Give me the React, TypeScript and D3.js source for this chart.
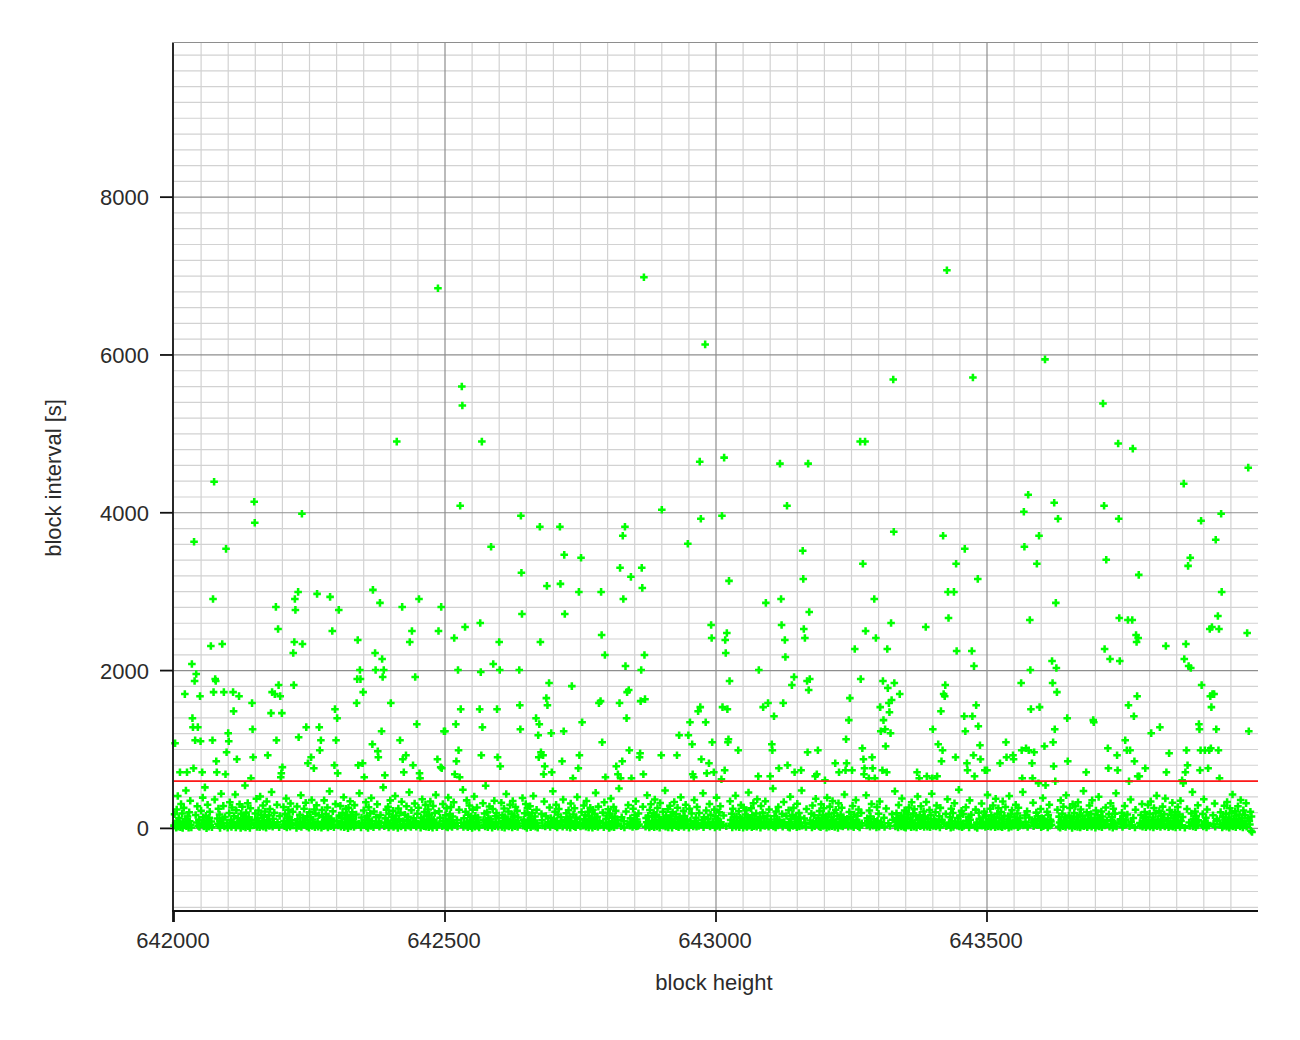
import React from "react";
import * as d3 from "d3";

const startHeight = 642000;
const blockCount = 2000;
const targetInterval = 600;
const xMajorTicks = [642000, 642500, 643000, 643500];
const yMajorTicks = [0, 2000, 4000, 6000, 8000];
const xTitle = "block height";
const yTitle = "block interval [s]";

// [block offset from 642000, interval in seconds] for the readable long intervals
const spikePoints: [number, number][] = [
  [74,4394],[487,6845],[531,5601],[532,5359],[411,4902],[568,4902],[867,6985],[970,4648],[980,6134],[1015,4699],
  [1118,4623],[1170,4623],[1266,4902],[1275,4902],[1327,5690],[1426,7074],[1474,5715],[1607,5944],[1714,5385],[1742,4877],
  [1769,4813],[1863,4369],[1982,4572],[1576,4229],[1624,4128],
  [148,4140],[149,3874],[236,3988],[37,3632],[96,3543],[72,2908],[229,2997],[223,2908],[188,2807],[224,2769],
  [264,2972],[288,2934],[304,2769],[367,3023],[380,2858],[421,2807],[452,2908],[493,2807],[192,2527],[292,2502],
  [439,2502],[488,2502],[68,2311],[89,2337],[222,2362],[237,2337],[220,2223],[339,2388],[371,2223],[384,2146],
  [435,2362],[33,2083],[41,1956],[343,2007],[372,2007],[387,2007],[385,1918],[445,1918],[344,1892],[76,1892],
  [38,1867],[20,1702],[48,1676],[77,1867],[73,1727],[92,1727],[109,1727],[120,1676],[144,1588],[110,1486],
  [34,1397],[35,1283],[44,1283],[39,1118],[49,1105],[71,1118],[100,1207],[101,1105],[97,965],[145,1257],
  [116,876],[146,902],[78,851],[2,1080],[173,927],[181,1727],[186,1702],[196,1676],[193,1816],[221,1816],
  [179,1461],[199,1461],[189,1118],[230,1156],[244,1283],[268,1283],[271,1118],[269,991],[253,902],[299,1118],
  [297,1511],[301,1397],[338,1892],[349,1727],[337,1588],[400,1588],[448,1321],[383,1232],[366,1067],[376,978],
  [377,902],[417,1118],[428,927],[422,876],[441,800],[486,876],[494,762],[498,1232],
  [11,711],[24,711],[36,762],[52,711],[79,711],[95,686],[142,635],[197,648],[302,699],[351,648],
  [389,673],[424,711],[453,699],[454,635],[492,775],[340,800],[348,826],[296,800],[247,826],[258,762],
  [200,775],[198,699],
  [528,4089],[640,3962],[675,3823],[712,3823],[832,3823],[828,3708],[900,4039],[972,3924],[948,3607],[585,3569],
  [720,3467],[751,3429],[641,3239],[823,3302],[863,3302],[843,3188],[688,3073],[713,3099],[864,3048],[747,2997],
  [788,2997],[829,2908],[642,2718],[721,2718],[537,2553],[565,2604],[991,2578],[517,2413],[600,2362],[676,2362],
  [789,2451],[992,2413],[795,2197],[868,2197],[589,2083],[833,2057],[524,2007],[566,1981],[601,2007],[637,2007],
  [862,2007],
  [692,1842],[734,1803],[836,1727],[839,1753],[869,1638],[861,1613],[784,1588],[787,1613],[822,1588],[687,1651],
  [689,1562],[529,1511],[564,1511],[596,1511],[638,1562],[835,1397],[971,1537],[967,1486],[520,1321],[569,1283],
  [639,1257],[668,1397],[674,1321],[753,1346],[696,1207],[719,1232],[672,1181],[952,1346],[981,1346],[932,1181],
  [949,1181],[790,1092],[956,1067],[993,1092],[500,1232],[525,991],[521,851],[567,927],[597,902],[602,787],
  [677,965],[681,927],[673,902],[684,787],[716,851],[748,927],[746,762],[840,991],[860,953],[859,902],
  [827,851],[816,787],[899,927],[928,927],[973,876],[987,826],[996,711],[518,686],[527,648],[682,686],
  [697,711],[736,635],[796,648],[819,686],[824,635],[844,635],[866,686],[957,686],[959,648],[983,699],
  [1131,4089],[1011,3962],[1328,3759],[1419,3708],[1459,3543],[1160,3518],[1271,3353],[1443,3353],[1024,3137],[1161,3162],
  [1483,3162],[1428,2997],[1439,2997],[1120,2908],[1292,2908],[1092,2858],[1172,2743],[1429,2667],[1121,2578],[1323,2604],
  [1387,2553],[1162,2527],[1020,2477],[1276,2502],[1017,2388],[1127,2388],[1164,2413],[1295,2413],[1018,2223],[1128,2172],
  [1256,2273],[1316,2273],[1444,2248],[1472,2248],[1476,2057],[1079,2007],
  [1025,1867],[1144,1918],[1140,1816],[1173,1892],[1168,1867],[1171,1753],[1267,1892],[1308,1867],[1317,1778],[1329,1842],
  [1339,1702],[1423,1816],[1420,1702],[1422,1676],[1012,1537],[1021,1511],[1087,1537],[1096,1588],[1124,1588],[1107,1422],
  [1247,1651],[1319,1588],[1324,1626],[1303,1537],[1320,1473],[1415,1486],[1480,1562],[1458,1422],[1473,1422],[1245,1372],
  [1309,1372],[1304,1232],[1312,1257],[1322,1207],[1400,1257],[1460,1232],[1484,1295],[1023,1130],[1022,1092],[1103,1067],
  [1104,991],[1240,1130],[1313,1041],[1410,1067],[1418,991],[1487,1054],[1041,991],[1169,965],[1188,991],[1270,1016],
  [1272,876],[1288,902],[1289,762],[1442,902],[1416,851],[1475,927],[1488,876],[1463,826],[1464,737],[1496,737],
  [1220,826],[1241,826],[1239,737],[1251,737],[1227,711],[1274,762],[1273,686],[1307,737],[1315,711],[1116,762],
  [1132,800],[1145,711],[1157,737],[1016,737],[1078,660],[1100,660],[1183,660],[1186,686],[1371,711],[1375,635],
  [1389,660],[1399,635],[1408,660],[1477,660],[1010,622],[1201,610],[1282,635],[1293,635],
  [1568,4013],[1631,3924],[1743,3924],[1895,3899],[1932,3988],[1716,4089],[1596,3708],[1922,3658],[1569,3569],[1720,3404],
  [1875,3429],[1871,3327],[1592,3353],[1780,3213],[1933,2997],[1627,2858],[1579,2642],[1744,2667],[1760,2642],[1768,2642],
  [1926,2692],[1911,2527],[1915,2553],[1928,2527],[1980,2477],[1775,2451],[1779,2413],[1776,2362],[1717,2273],[1830,2311],
  [1867,2337],[1620,2121],[1628,2032],[1727,2146],[1745,2121],[1864,2146],[1872,2057],[1876,2032],[1580,2007],
  [1563,1842],[1621,1842],[1629,1727],[1581,1511],[1597,1537],[1648,1397],[1696,1372],[1697,1346],[1761,1562],[1777,1676],
  [1771,1422],[1896,1816],[1912,1676],[1916,1702],[1919,1702],[1914,1537],[1891,1321],[1892,1257],[1923,1257],[1983,1232],
  [1625,1257],[1535,1092],[1622,1092],[1606,1041],[1803,1207],[1819,1283],[1755,1118],[1536,902],[1548,927],[1549,876],
  [1564,991],[1572,1016],[1577,991],[1587,965],[1524,826],[1583,826],[1623,787],[1649,851],[1723,1016],[1740,927],
  [1758,991],[1764,991],[1772,851],[1724,762],[1741,737],[1683,711],[1792,762],[1831,711],[1836,953],[1868,991],
  [1870,800],[1866,711],[1894,991],[1902,991],[1910,991],[1913,1016],[1927,991],[1893,737],[1908,762],[1778,660],
  [1781,660],[1565,635],[1584,635],[1595,572],[1608,546],[1626,597],[1860,610],[1862,572],[1929,635],[1762,597],
  [1500,737],
];

// the remaining (short) intervals, block after block
const baseIntervals: number[] = [
  35,180,62,8,240,95,410,22,130,70,15,310,55,190,5,85,260,40,120,480,28,150,66,10,205,90,350,45,12,170,75,280,30,110,18,225,58,390,140,25,80,520,48,160,3,100,300,68,20,135,
  210,42,88,14,365,125,60,250,33,175,7,95,440,52,115,285,26,145,72,9,195,330,38,105,17,265,82,155,50,430,11,230,65,128,36,305,92,6,185,47,275,118,24,160,78,545,13,200,57,97,
  320,29,142,63,4,255,108,41,188,74,375,19,132,53,228,86,16,405,61,168,34,98,290,23,145,70,215,46,10,340,102,55,165,31,245,84,460,21,122,67,198,39,300,77,14,158,49,270,93,27,
  182,56,380,11,126,87,235,44,148,20,315,71,104,37,212,59,6,278,116,32,172,81,420,18,138,64,250,43,99,325,26,155,75,8,206,52,138,360,30,113,69,240,15,186,48,294,85,22,167,40,
  9,232,73,140,27,355,106,51,178,35,88,265,12,150,62,470,29,124,80,218,45,16,310,97,38,162,57,285,21,134,76,195,43,395,14,118,66,248,33,174,89,2,260,101,47,345,25,152,68,205,
  54,120,18,295,83,36,176,62,445,11,137,73,228,41,102,330,24,159,70,7,268,112,48,190,30,385,94,15,215,58,141,39,305,86,20,170,64,520,28,127,76,238,46,99,275,13,183,55,355,34,
  144,71,222,19,108,61,410,37,163,84,5,252,119,42,198,26,337,90,56,173,12,280,104,50,146,33,458,78,17,230,67,128,40,315,95,23,186,59,262,10,136,81,370,44,114,28,207,63,298,21,
  156,48,92,240,14,175,69,340,31,121,85,8,283,110,52,196,38,425,74,16,218,60,134,29,308,97,45,165,22,256,79,11,392,123,57,180,35,270,88,19,151,66,330,43,105,26,235,72,490,17,
  128,63,210,34,355,81,14,172,56,290,99,27,147,72,6,238,115,41,405,20,161,88,50,265,31,139,76,12,318,107,46,189,24,540,93,58,203,15,132,68,278,37,117,84,9,246,53,350,29,154,
  77,196,22,130,61,325,18,167,90,44,252,10,143,71,435,35,118,83,215,26,65,298,109,48,178,13,346,96,40,160,28,272,75,55,224,17,138,62,385,33,110,86,191,24,309,51,7,255,101,39,
  168,45,280,14,122,73,198,32,410,92,55,150,21,235,67,10,183,104,38,340,26,158,78,48,265,19,131,87,470,42,115,60,210,29,300,96,12,176,54,245,36,140,82,23,365,107,46,192,17,128,
  64,230,39,145,9,315,97,57,175,28,255,80,15,138,66,398,43,119,25,206,71,34,290,112,52,166,20,348,89,46,212,11,154,75,260,33,125,61,8,235,102,40,182,27,450,84,56,148,19,276,
  93,36,200,68,14,330,121,47,163,30,242,79,5,188,58,378,23,135,86,44,270,16,152,70,225,38,108,60,505,27,142,91,12,215,55,296,34,127,74,18,250,98,42,170,63,345,25,114,81,31,
  190,50,275,20,132,77,420,37,159,94,11,232,62,305,29,145,83,48,196,15,365,105,54,171,24,258,73,40,140,9,322,98,58,210,33,118,69,480,22,162,86,44,243,13,130,76,287,36,150,60,
  8,204,88,41,335,116,53,179,27,262,71,16,146,64,395,34,124,92,49,222,18,158,79,300,38,111,60,10,248,96,45,188,25,360,84,57,135,21,272,67,32,195,102,51,445,14,140,74,228,39,
  115,62,310,24,172,85,42,238,13,151,70,390,30,126,97,54,203,19,280,78,46,164,28,345,107,58,185,11,250,82,36,137,66,415,23,148,90,49,218,16,134,72,295,41,120,61,8,265,99,33,
  176,52,230,17,140,76,455,35,129,88,45,255,14,166,63,320,27,117,93,50,190,22,370,104,56,148,10,283,79,38,200,65,128,31,345,87,47,161,20,240,71,112,42,505,26,153,83,12,214,58,
  98,37,270,110,55,182,23,335,81,44,157,18,229,68,9,402,121,50,174,30,260,86,40,143,15,312,95,60,196,26,138,73,480,34,125,64,19,245,101,48,186,12,290,78,42,165,29,375,90,53,
  131,24,220,69,14,305,114,46,168,32,254,85,57,149,10,390,99,39,181,21,276,74,51,139,28,348,106,61,198,17,236,83,43,156,6,318,118,52,172,35,262,70,25,142,93,430,47,123,64,20,
  207,60,145,31,285,89,16,177,55,360,103,42,160,27,240,76,13,195,66,420,38,127,91,49,226,20,152,71,310,34,115,84,11,270,97,58,186,23,340,79,45,136,18,252,65,30,178,109,470,26,
  84,192,41,130,12,296,105,57,163,26,380,92,44,147,19,228,72,8,210,118,50,175,33,265,81,46,139,15,330,99,55,188,22,244,68,37,158,11,405,103,48,171,29,282,77,40,126,63,215,18,
  149,70,335,21,124,86,43,233,16,167,58,440,32,115,95,51,205,25,290,80,38,154,13,260,108,60,182,28,370,74,46,142,9,248,92,54,196,19,318,87,35,131,66,490,24,160,78,41,222,14,
  62,180,30,268,97,52,145,12,355,110,45,173,22,238,75,6,199,121,57,316,34,137,83,40,213,17,160,69,425,28,118,90,48,250,20,166,72,37,290,104,59,140,15,375,86,43,184,26,256,68,
  135,24,208,73,16,342,112,50,159,31,272,88,42,152,9,410,96,56,176,20,230,79,35,146,61,300,102,47,190,14,262,71,30,128,57,460,38,164,85,44,218,18,139,76,325,27,117,93,52,200,
  40,155,91,246,15,132,67,385,29,121,80,48,212,13,170,60,300,35,109,88,45,236,22,149,74,10,355,101,54,186,27,275,83,39,143,17,420,94,58,162,31,258,70,43,127,7,305,113,51,194,
  25,280,77,40,148,19,330,99,61,173,12,240,85,34,157,66,475,29,119,92,50,205,16,164,73,38,290,107,55,181,23,356,87,45,136,10,226,71,33,168,59,400,26,124,96,48,215,14,152,80,
  37,264,103,53,179,21,318,90,42,141,8,250,76,31,187,64,445,24,116,97,56,198,18,160,82,39,285,111,49,175,28,365,85,44,133,13,237,68,35,170,61,310,22,129,94,52,209,15,147,78,
  33,298,106,58,184,20,342,89,41,137,11,258,72,36,192,65,415,27,114,98,54,220,17,161,80,43,276,109,50,178,25,380,86,46,130,14,232,67,32,172,57,325,23,125,95,51,203,12,153,79,
  42,270,101,55,176,18,350,93,40,144,9,245,74,30,188,62,460,26,122,90,53,213,16,158,84,37,292,104,48,182,24,370,88,45,134,12,240,69,34,166,60,315,21,120,97,49,206,13,149,75,
  30,288,108,57,186,22,335,91,43,139,10,255,70,33,194,63,430,25,117,99,52,218,15,163,81,41,280,112,47,177,26,360,83,44,128,11,228,66,36,169,58,320,20,127,93,50,210,-30,150,-45,
];

type Pt = { height: number; interval: number };

function buildPoints(): Pt[] {
  const spikeMap = new Map<number, number>();
  spikePoints.forEach(([o, v]) => spikeMap.set(o, v));
  const pts: Pt[] = [];
  let bi = 0;
  for (let k = 0; k < blockCount; k++) {
    if (spikeMap.has(k)) {
      pts.push({ height: startHeight + k, interval: spikeMap.get(k)! });
    } else if (bi < baseIntervals.length) {
      pts.push({ height: startHeight + k, interval: baseIntervals[bi++] });
    }
  }
  return pts;
}

export default function App() {
  const W = 1300;
  const H = 1040;
  const x = d3.scaleLinear().domain([642000, 644000]).range([174, 1258]);
  const y = d3.scaleLinear().domain([-1000, 9960]).range([907.3, 42.5]);
  const points = buildPoints();
  const cross = d3.symbol(d3.symbolCross, 32)() as string;

  const xMinor = d3.range(642050, 644000, 50).filter((v) => v % 500 !== 0);
  const yMinor = d3.range(-1000, 9960, 200).filter((v) => v % 2000 !== 0);
  const [x0, x1] = x.range();
  const font = "'Liberation Sans', Arial, sans-serif";
  const textColor = "#2b2b2b";

  return (
    <svg
      width={W}
      height={H}
      style={{ position: "absolute", left: 0, top: 0, background: "#fff" }}
      fontFamily={font}
    >
      <rect x={0} y={0} width={W} height={H} fill="#fff" />
      {/* minor grid */}
      <g stroke="#d2d2d2" strokeWidth={1.2}>
        {xMinor.map((v) => (
          <line key={"xm" + v} x1={x(v)} x2={x(v)} y1={y(9960)} y2={911} />
        ))}
        {yMinor.map((v) => (
          <line key={"ym" + v} x1={x0} x2={x1} y1={y(v)} y2={y(v)} />
        ))}
      </g>
      {/* major grid */}
      <g stroke="#8e8e8e" strokeWidth={1.2}>
        {xMajorTicks.slice(1).map((v) => (
          <line key={"xM" + v} x1={x(v)} x2={x(v)} y1={y(9960)} y2={911} />
        ))}
        {yMajorTicks.map((v) => (
          <line key={"yM" + v} x1={x0} x2={x1} y1={y(v)} y2={y(v)} />
        ))}
        <line x1={x0} x2={x1} y1={y(9960)} y2={y(9960)} />
      </g>
      {/* points */}
      <g fill="#00ff00">
        {points.map((p, i) => (
          <path key={i} d={cross} transform={`translate(${x(p.height)},${y(p.interval)})`} />
        ))}
      </g>
      {/* target line */}
      <line x1={x0} x2={x1} y1={y(targetInterval)} y2={y(targetInterval)} stroke="#ff1a1a" strokeWidth={1.8} />
      {/* axes */}
      <g stroke="#111" strokeWidth={1.8}>
        <line x1={173} x2={173} y1={y(9960)} y2={922} />
        <line x1={172} x2={x1} y1={911} y2={911} />
        {yMajorTicks.map((v) => (
          <line key={"yt" + v} x1={160} x2={173} y1={y(v)} y2={y(v)} />
        ))}
        {xMajorTicks.map((v) => (
          <line key={"xt" + v} x1={x(v)} x2={x(v)} y1={911} y2={922} />
        ))}
      </g>
      <g fill={textColor} fontSize={22}>
        {xMajorTicks.map((v) => (
          <text key={"xl" + v} x={x(v) - 1} y={948} textAnchor="middle">
            {String(v)}
          </text>
        ))}
        {yMajorTicks.map((v) => (
          <text key={"yl" + v} x={149} y={y(v)} dy="0.36em" textAnchor="end">
            {String(v)}
          </text>
        ))}
        <text x={714} y={990} textAnchor="middle">
          {xTitle}
        </text>
        <text transform="translate(61,478) rotate(-90)" textAnchor="middle">
          {yTitle}
        </text>
      </g>
    </svg>
  );
}
